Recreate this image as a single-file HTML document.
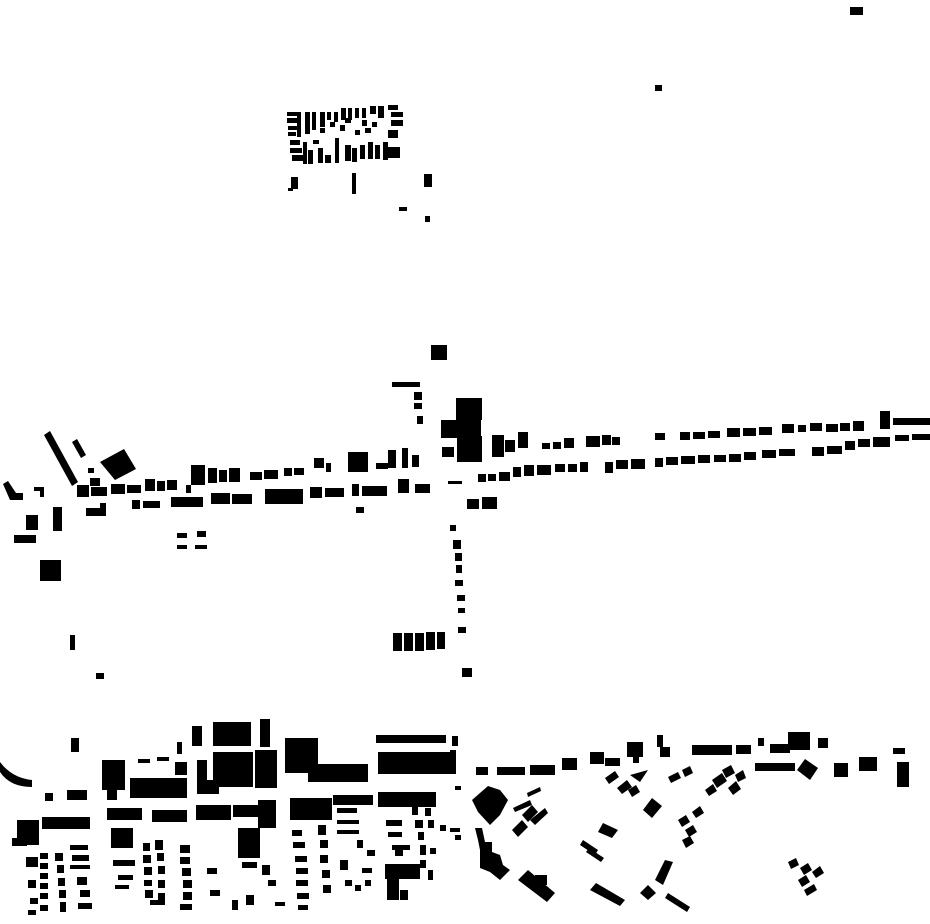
<!DOCTYPE html>
<html><head><meta charset="utf-8"><style>html,body{margin:0;padding:0;background:#fff}svg{display:block}</style></head>
<body>
<svg width="930" height="924" viewBox="0 0 930 924" xmlns="http://www.w3.org/2000/svg" fill="#000">
<rect x="850" y="7" width="13" height="8"/>
<rect x="655" y="85" width="7" height="6"/>
<rect x="431" y="345" width="16" height="15"/>
<rect x="40" y="560" width="21" height="21"/>
<rect x="70" y="635" width="5" height="15"/>
<rect x="96" y="673" width="8" height="6"/>
<rect x="462" y="668" width="10" height="9"/>
<rect x="287" y="112" width="10" height="4"/><rect x="287" y="118" width="12" height="5"/><rect x="288" y="126" width="10" height="4"/>
<rect x="288" y="132" width="8" height="4"/><rect x="290" y="140" width="10" height="5"/><rect x="290" y="148" width="12" height="5"/>
<rect x="292" y="155" width="12" height="6"/><rect x="297" y="112" width="4" height="25"/><rect x="305" y="112" width="5" height="22"/>
<rect x="312" y="112" width="4" height="18"/><rect x="320" y="112" width="5" height="15"/><rect x="327" y="112" width="4" height="8"/>
<rect x="334" y="112" width="4" height="10"/><rect x="341" y="108" width="5" height="12"/><rect x="348" y="108" width="4" height="12"/>
<rect x="355" y="108" width="4" height="10"/><rect x="362" y="108" width="4" height="10"/><rect x="370" y="106" width="6" height="8"/>
<rect x="378" y="106" width="6" height="12"/><rect x="388" y="105" width="10" height="5"/><rect x="391" y="112" width="12" height="5"/>
<rect x="391" y="120" width="12" height="6"/><rect x="388" y="130" width="10" height="8"/><rect x="303" y="142" width="4" height="22"/>
<rect x="308" y="150" width="5" height="14"/><rect x="318" y="148" width="5" height="15"/><rect x="325" y="155" width="6" height="8"/>
<rect x="335" y="138" width="4" height="25"/><rect x="345" y="145" width="6" height="16"/><rect x="352" y="148" width="5" height="14"/>
<rect x="360" y="145" width="5" height="14"/><rect x="368" y="142" width="5" height="17"/><rect x="375" y="145" width="5" height="14"/>
<rect x="383" y="142" width="5" height="18"/><rect x="388" y="147" width="12" height="11"/><rect x="330" y="122" width="5" height="5"/>
<rect x="340" y="125" width="5" height="6"/><rect x="345" y="118" width="6" height="5"/><rect x="355" y="130" width="5" height="5"/>
<rect x="362" y="120" width="5" height="6"/><rect x="365" y="128" width="6" height="5"/><rect x="372" y="122" width="5" height="5"/>
<rect x="320" y="128" width="5" height="5"/><rect x="313" y="140" width="6" height="4"/>
<rect x="291" y="177" width="7" height="12"/><rect x="288" y="188" width="5" height="3"/><rect x="352" y="173" width="4" height="21"/>
<rect x="424" y="174" width="8" height="13"/><rect x="399" y="207" width="8" height="4"/><rect x="425" y="216" width="5" height="6"/>
<polygon points="44,435 50,431 78,482 72,486"/>
<polygon points="72,442 77,439 86,455 81,458"/>
<polygon points="100,462 124,449 136,469 115,480"/>
<rect x="88" y="468" width="6" height="5"/>
<polygon points="3,484 8,481 16,493 23,493 23,500 10,500"/>
<rect x="34" y="487" width="9" height="4"/><rect x="40" y="487" width="4" height="10"/>
<rect x="26" y="515" width="12" height="15"/><rect x="14" y="535" width="22" height="8"/><rect x="53" y="507" width="9" height="24"/>
<rect x="86" y="508" width="20" height="8"/><rect x="100" y="503" width="6" height="12"/>
<rect x="77" y="485" width="12" height="12"/><rect x="91" y="487" width="16" height="9"/><rect x="90" y="478" width="10" height="8"/>
<rect x="111" y="484" width="14" height="10"/><rect x="127" y="485" width="14" height="8"/><rect x="145" y="479" width="10" height="12"/><rect x="157" y="481" width="8" height="10"/><rect x="167" y="480" width="10" height="10"/><rect x="186" y="485" width="5" height="8"/>
<rect x="191" y="465" width="14" height="20"/><rect x="208" y="468" width="9" height="15"/><rect x="219" y="470" width="8" height="12"/><rect x="229" y="468" width="11" height="14"/><rect x="250" y="472" width="12" height="8"/><rect x="264" y="470" width="14" height="9"/>
<rect x="284" y="468" width="8" height="8"/><rect x="294" y="468" width="10" height="7"/><rect x="314" y="458" width="10" height="10"/><rect x="326" y="463" width="5" height="9"/>
<rect x="348" y="452" width="20" height="20"/><rect x="376" y="463" width="12" height="6"/><rect x="388" y="450" width="8" height="18"/><rect x="402" y="448" width="6" height="20"/><rect x="412" y="455" width="7" height="12"/>
<rect x="132" y="500" width="8" height="9"/><rect x="143" y="501" width="17" height="7"/><rect x="171" y="497" width="32" height="10"/><rect x="211" y="493" width="19" height="11"/><rect x="232" y="494" width="20" height="10"/>
<rect x="265" y="489" width="38" height="15"/><rect x="310" y="487" width="12" height="11"/><rect x="325" y="488" width="19" height="9"/><rect x="352" y="484" width="7" height="12"/><rect x="362" y="486" width="25" height="10"/>
<rect x="356" y="507" width="8" height="6"/><rect x="398" y="479" width="11" height="14"/><rect x="415" y="484" width="15" height="9"/>
<rect x="448" y="481" width="14" height="3"/>
<rect x="177" y="533" width="10" height="5"/><rect x="197" y="531" width="9" height="6"/><rect x="177" y="545" width="10" height="4"/><rect x="195" y="545" width="12" height="4"/>
<rect x="392" y="382" width="28" height="5"/><rect x="414" y="392" width="8" height="8"/><rect x="414" y="403" width="8" height="6"/><rect x="417" y="416" width="6" height="8"/>
<rect x="456" y="398" width="26" height="22"/><rect x="441" y="420" width="40" height="18"/><rect x="457" y="436" width="25" height="26"/><rect x="442" y="447" width="12" height="10"/>
<rect x="467" y="499" width="12" height="10"/><rect x="482" y="497" width="15" height="12"/>
<rect x="450" y="525" width="6" height="6"/><rect x="453" y="540" width="8" height="9"/><rect x="455" y="553" width="7" height="8"/>
<rect x="456" y="565" width="6" height="8"/><rect x="455" y="580" width="8" height="6"/><rect x="457" y="595" width="8" height="6"/>
<rect x="458" y="608" width="7" height="5"/><rect x="458" y="627" width="8" height="6"/>
<rect x="393" y="633" width="9" height="18"/><rect x="404" y="633" width="9" height="18"/><rect x="415" y="633" width="9" height="18"/><rect x="426" y="632" width="9" height="18"/><rect x="437" y="632" width="8" height="17"/>
<rect x="492" y="435" width="12" height="22"/><rect x="505" y="440" width="10" height="12"/><rect x="518" y="432" width="10" height="16"/>
<rect x="542" y="443" width="8" height="6"/><rect x="553" y="442" width="8" height="7"/><rect x="564" y="438" width="10" height="10"/><rect x="586" y="436" width="14" height="11"/><rect x="602" y="435" width="9" height="10"/><rect x="612" y="437" width="8" height="8"/><rect x="655" y="433" width="10" height="7"/>
<rect x="680" y="432" width="10" height="8"/><rect x="693" y="432" width="12" height="7"/><rect x="708" y="431" width="12" height="7"/><rect x="727" y="428" width="13" height="9"/><rect x="743" y="428" width="13" height="8"/><rect x="759" y="427" width="13" height="8"/><rect x="782" y="424" width="12" height="9"/><rect x="798" y="425" width="8" height="7"/><rect x="810" y="423" width="12" height="8"/>
<rect x="826" y="424" width="12" height="8"/><rect x="840" y="423" width="10" height="8"/><rect x="853" y="421" width="11" height="10"/><rect x="880" y="411" width="10" height="18"/><rect x="893" y="418" width="37" height="7"/>
<rect x="478" y="474" width="8" height="8"/><rect x="488" y="474" width="8" height="7"/><rect x="499" y="472" width="11" height="9"/><rect x="513" y="467" width="8" height="10"/><rect x="524" y="465" width="10" height="11"/><rect x="537" y="465" width="14" height="10"/><rect x="555" y="464" width="10" height="8"/><rect x="568" y="464" width="9" height="8"/><rect x="580" y="462" width="8" height="10"/>
<rect x="605" y="462" width="8" height="11"/><rect x="616" y="460" width="12" height="9"/><rect x="631" y="459" width="14" height="10"/><rect x="655" y="458" width="8" height="9"/><rect x="666" y="457" width="12" height="8"/><rect x="681" y="456" width="14" height="8"/><rect x="698" y="455" width="12" height="8"/><rect x="714" y="455" width="12" height="7"/><rect x="729" y="454" width="12" height="8"/><rect x="744" y="452" width="12" height="8"/>
<rect x="762" y="450" width="14" height="8"/><rect x="779" y="449" width="16" height="7"/><rect x="812" y="447" width="12" height="9"/><rect x="827" y="446" width="15" height="8"/><rect x="845" y="441" width="10" height="9"/><rect x="858" y="439" width="12" height="8"/><rect x="873" y="437" width="17" height="10"/><rect x="895" y="435" width="14" height="6"/><rect x="912" y="434" width="18" height="6"/>
<path d="M0,762 Q12,778 32,780 L32,787 Q10,787 0,772 Z"/>
<rect x="71" y="738" width="8" height="14"/><rect x="45" y="793" width="8" height="8"/><rect x="67" y="790" width="20" height="10"/>
<rect x="102" y="760" width="23" height="30"/><rect x="107" y="790" width="10" height="10"/>
<rect x="138" y="759" width="12" height="4"/><rect x="157" y="757" width="12" height="4"/><rect x="177" y="742" width="5" height="12"/>
<rect x="130" y="778" width="57" height="20"/><rect x="175" y="762" width="12" height="13"/>
<rect x="192" y="726" width="10" height="20"/><rect x="213" y="722" width="38" height="24"/><rect x="260" y="719" width="10" height="28"/>
<rect x="197" y="760" width="10" height="20"/><rect x="213" y="752" width="40" height="35"/><rect x="197" y="780" width="22" height="14"/>
<rect x="255" y="750" width="22" height="38"/><rect x="285" y="738" width="33" height="35"/><rect x="308" y="764" width="60" height="18"/>
<rect x="376" y="735" width="70" height="8"/><rect x="378" y="752" width="78" height="22"/><rect x="452" y="736" width="6" height="10"/><rect x="450" y="750" width="6" height="8"/>
<rect x="107" y="808" width="35" height="12"/><rect x="152" y="810" width="35" height="12"/><rect x="196" y="805" width="35" height="15"/>
<rect x="233" y="805" width="25" height="12"/><rect x="258" y="800" width="18" height="28"/><rect x="290" y="798" width="42" height="22"/>
<rect x="333" y="795" width="40" height="10"/><rect x="378" y="792" width="58" height="15"/><rect x="455" y="786" width="6" height="4"/>
<rect x="17" y="820" width="22" height="25"/><rect x="12" y="838" width="15" height="8"/><rect x="42" y="817" width="48" height="12"/>
<rect x="238" y="828" width="22" height="30"/><rect x="111" y="828" width="22" height="20"/>
<rect x="385" y="864" width="35" height="15"/><rect x="387" y="878" width="12" height="22"/><rect x="400" y="890" width="8" height="10"/>
<g>
<rect x="26" y="857" width="12" height="10"/><rect x="28" y="880" width="8" height="8"/><rect x="30" y="898" width="8" height="6"/><rect x="28" y="910" width="8" height="5"/>
<rect x="40" y="853" width="8" height="6"/><rect x="40" y="863" width="8" height="6"/><rect x="40" y="873" width="8" height="6"/><rect x="40" y="883" width="8" height="6"/><rect x="40" y="893" width="8" height="6"/><rect x="40" y="905" width="8" height="6"/>
<rect x="55" y="853" width="8" height="8"/><rect x="57" y="865" width="7" height="8"/><rect x="58" y="878" width="7" height="8"/><rect x="59" y="890" width="7" height="8"/><rect x="60" y="902" width="6" height="10"/>
<rect x="70" y="845" width="18" height="5"/><rect x="72" y="855" width="17" height="6"/><rect x="70" y="865" width="20" height="4"/><rect x="77" y="877" width="10" height="8"/><rect x="80" y="890" width="10" height="7"/><rect x="78" y="903" width="14" height="6"/>
<rect x="113" y="860" width="22" height="6"/><rect x="118" y="875" width="15" height="5"/><rect x="115" y="885" width="14" height="4"/>
<rect x="143" y="843" width="7" height="8"/><rect x="143" y="855" width="8" height="8"/><rect x="144" y="867" width="8" height="8"/><rect x="144" y="880" width="8" height="6"/><rect x="145" y="890" width="8" height="8"/>
<rect x="155" y="840" width="8" height="10"/><rect x="157" y="853" width="7" height="8"/><rect x="158" y="866" width="7" height="8"/><rect x="158" y="880" width="7" height="8"/><rect x="158" y="893" width="7" height="10"/><rect x="150" y="900" width="15" height="5"/>
<rect x="180" y="845" width="10" height="8"/><rect x="180" y="857" width="10" height="7"/><rect x="182" y="868" width="9" height="8"/><rect x="183" y="880" width="9" height="8"/><rect x="183" y="892" width="9" height="8"/><rect x="180" y="904" width="12" height="6"/>
<rect x="207" y="868" width="10" height="6"/><rect x="210" y="890" width="10" height="6"/><rect x="232" y="900" width="6" height="10"/><rect x="246" y="895" width="8" height="10"/>
<rect x="242" y="862" width="15" height="6"/><rect x="262" y="865" width="8" height="10"/><rect x="268" y="880" width="8" height="6"/><rect x="275" y="902" width="10" height="4"/>
<rect x="292" y="830" width="10" height="6"/><rect x="293" y="842" width="12" height="6"/><rect x="295" y="856" width="12" height="6"/><rect x="296" y="868" width="12" height="6"/><rect x="296" y="880" width="12" height="6"/><rect x="297" y="893" width="12" height="6"/><rect x="298" y="905" width="10" height="5"/>
<rect x="318" y="825" width="8" height="10"/><rect x="320" y="840" width="8" height="8"/><rect x="320" y="855" width="8" height="8"/><rect x="322" y="870" width="8" height="8"/><rect x="323" y="885" width="8" height="8"/>
<rect x="337" y="808" width="20" height="5"/><rect x="337" y="820" width="22" height="4"/><rect x="337" y="830" width="22" height="4"/><rect x="340" y="860" width="8" height="10"/><rect x="345" y="880" width="7" height="6"/><rect x="355" y="885" width="6" height="6"/><rect x="365" y="880" width="6" height="6"/>
<rect x="357" y="840" width="6" height="8"/><rect x="367" y="850" width="8" height="6"/><rect x="362" y="868" width="10" height="5"/>
<rect x="386" y="820" width="16" height="6"/><rect x="388" y="832" width="14" height="5"/><rect x="392" y="845" width="18" height="5"/><rect x="395" y="850" width="8" height="6"/>
<rect x="412" y="805" width="6" height="10"/><rect x="415" y="820" width="8" height="8"/><rect x="418" y="832" width="6" height="8"/><rect x="420" y="845" width="6" height="10"/><rect x="420" y="860" width="6" height="8"/>
<rect x="425" y="808" width="6" height="8"/><rect x="428" y="820" width="6" height="8"/><rect x="430" y="848" width="6" height="6"/><rect x="440" y="825" width="6" height="6"/>
<rect x="450" y="828" width="10" height="4"/><rect x="455" y="835" width="6" height="5"/><rect x="428" y="870" width="5" height="10"/>
</g>
<rect x="476" y="767" width="12" height="8"/><rect x="497" y="767" width="28" height="8"/><rect x="530" y="765" width="25" height="10"/><rect x="562" y="758" width="15" height="12"/>
<rect x="590" y="752" width="14" height="12"/><rect x="605" y="758" width="15" height="8"/><rect x="627" y="742" width="16" height="15"/><rect x="633" y="755" width="6" height="8"/>
<rect x="657" y="735" width="6" height="12"/><rect x="660" y="747" width="10" height="10"/><rect x="692" y="745" width="40" height="10"/><rect x="736" y="745" width="15" height="9"/>
<rect x="758" y="738" width="6" height="8"/><rect x="770" y="744" width="20" height="9"/><rect x="788" y="732" width="22" height="18"/><rect x="818" y="738" width="10" height="10"/>
<rect x="755" y="763" width="40" height="8"/><polygon points="797,770 805,759 818,768 810,780"/>
<rect x="834" y="763" width="14" height="14"/><rect x="859" y="757" width="18" height="14"/><rect x="893" y="748" width="12" height="6"/><rect x="897" y="762" width="12" height="25"/>
<polygon points="472,800 488,786 500,790 508,800 500,815 490,825 478,812"/>
<polygon points="475,828 482,828 485,842 492,842 492,852 500,855 503,865 510,870 500,880 490,872 480,868 480,850 478,840"/>
<polygon points="518,880 528,870 555,893 547,902"/><rect x="535" y="875" width="12" height="10"/>
<polygon points="527,793 540,787 541,791 528,797"/>
<polygon points="513,808 530,800 532,805 515,812"/><polygon points="522,815 532,805 538,812 528,822"/><polygon points="512,830 522,820 528,827 518,837"/><polygon points="530,820 545,808 548,813 535,825"/>
<polygon points="583,840 598,850 595,855 580,845"/><polygon points="589,848 604,858 601,862 586,852"/>
<polygon points="590,890 596,883 625,900 620,906"/><polygon points="640,893 648,885 656,893 648,900"/><polygon points="665,898 668,893 690,907 687,912"/>
<polygon points="655,880 665,860 673,862 663,885"/>
<polygon points="643,810 652,798 662,806 652,818"/><polygon points="598,832 603,823 618,830 612,838"/>
<polygon points="678,820 686,815 690,822 682,827"/><polygon points="685,830 693,825 697,832 689,837"/><polygon points="682,840 690,836 694,843 686,848"/><polygon points="692,812 700,806 704,813 696,818"/>
<polygon points="705,790 713,784 717,791 709,796"/><polygon points="712,780 722,773 727,781 717,788"/><polygon points="722,770 731,765 735,773 726,778"/><polygon points="728,788 736,781 741,789 733,795"/><polygon points="735,775 743,770 746,778 738,782"/>
<polygon points="605,778 615,771 619,777 609,784"/><polygon points="617,788 627,780 632,787 622,794"/><polygon points="630,775 648,770 640,782"/><polygon points="628,790 636,785 640,792 632,797"/>
<polygon points="668,777 678,772 681,778 671,783"/><polygon points="682,770 690,766 693,773 685,777"/>
<polygon points="788,862 796,858 799,865 791,869"/><polygon points="800,868 808,863 812,870 804,875"/><polygon points="812,872 820,866 824,873 816,878"/><polygon points="798,880 806,875 810,882 802,887"/><polygon points="804,890 814,884 817,890 807,896"/>
</svg>
</body></html>
